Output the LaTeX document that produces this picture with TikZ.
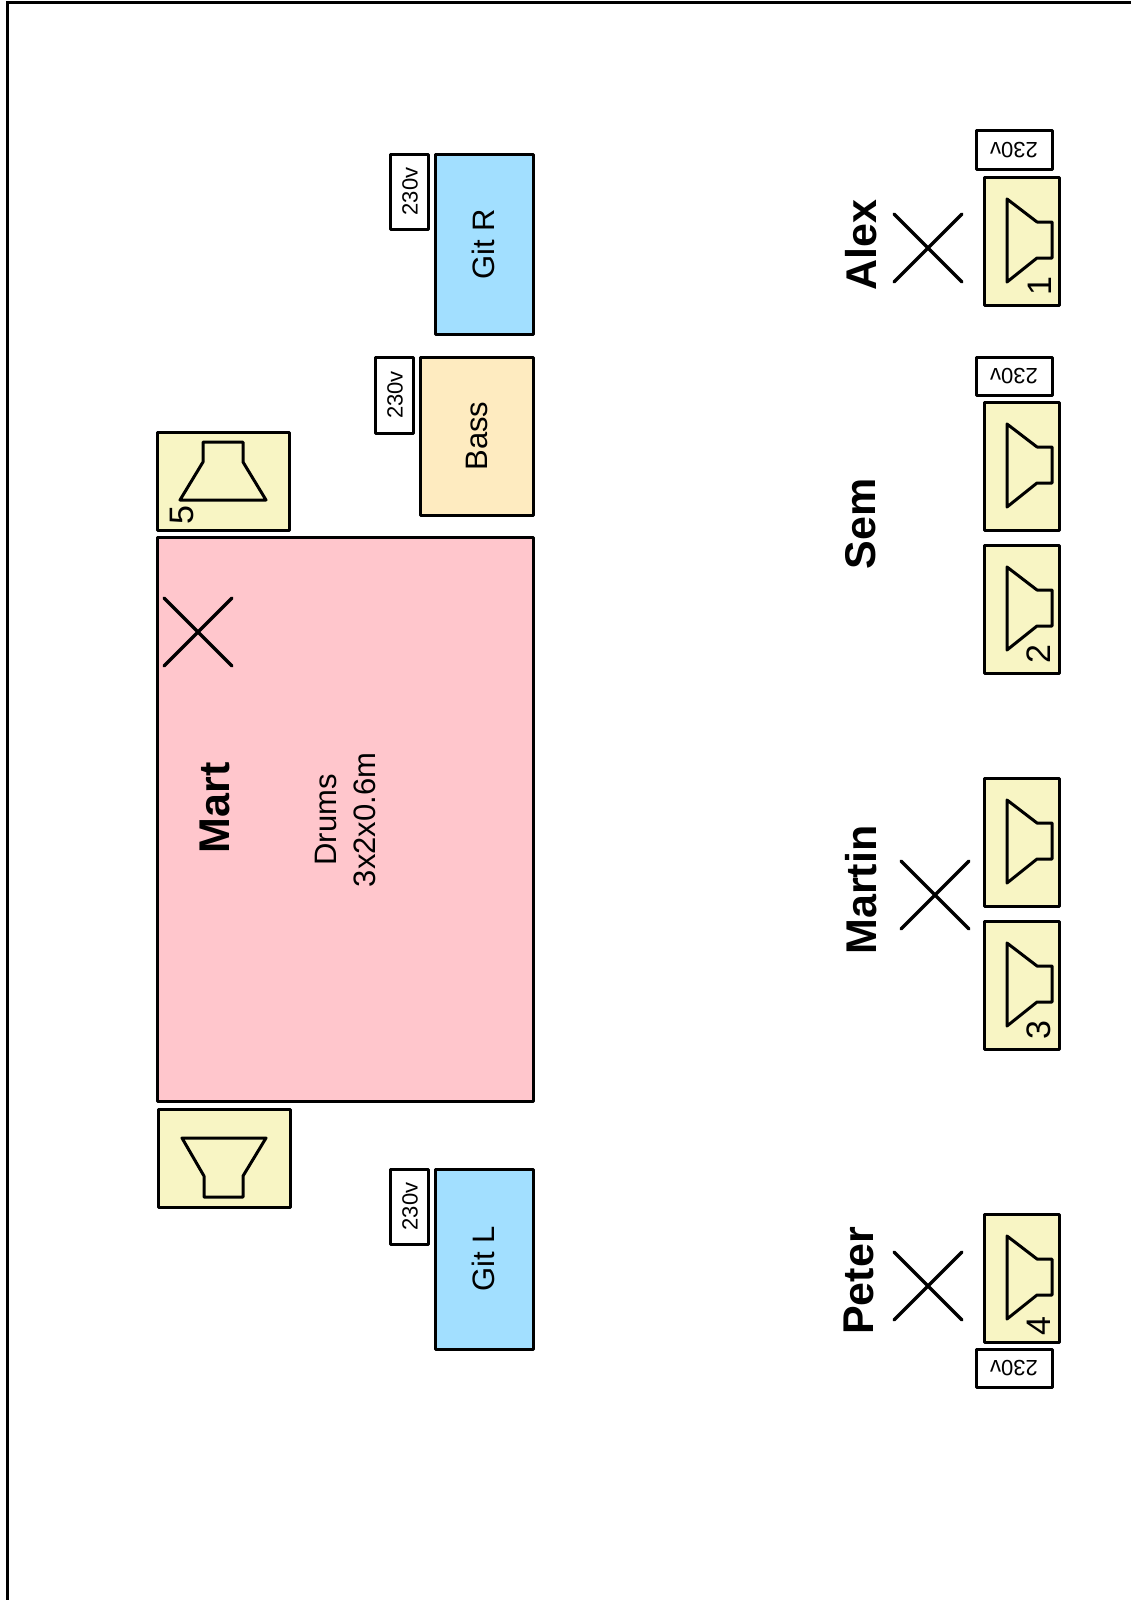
\documentclass[tikz,border=0pt]{standalone}
\usepackage{fontspec}
\setmainfont{Liberation Sans}
\definecolor{spkfill}{HTML}{F8F5C4}
\definecolor{drumfill}{HTML}{FFC6CC}
\definecolor{gitfill}{HTML}{A2DFFF}
\definecolor{bassfill}{HTML}{FEEBC0}
\tikzset{
  box/.style={draw=black,line width=3pt,line join=round},
  txt/.style={inner sep=0pt,font=\fontsize{31}{35}\selectfont,rotate=90,align=center},
  who/.style={inner sep=0pt,font=\fontsize{43}{48}\selectfont\bfseries,rotate=90},
  pwr/.style={inner sep=0pt,font=\fontsize{22}{25}\selectfont},
  num/.style={inner sep=0pt,font=\fontsize{34}{38}\selectfont,rotate=90},
  horn/.style={draw=black,line width=3pt,line join=round},
  cross/.style={draw=black,line width=3.4pt,line cap=round},
}
\newcommand{\monitor}[2]{%
  \filldraw[box,fill=spkfill] (#1,#2) rectangle ++(75,128);
  \draw[horn] (#1+23,#2+22) -- (#1+23,#2+105) -- (#1+53,#2+81) -- (#1+68,#2+81) -- (#1+68,#2+45) -- (#1+53,#2+45) -- cycle;
}
\newcommand{\powerbox}[6]{%
  \filldraw[box,fill=white] (#1,#2) rectangle (#3,#4);
  \node[pwr,rotate=#5] at ({(#1+#3)/2+#6},{(#2+#4)/2}) {230v};
}
\newcommand{\xmark}[3]{\draw[cross] (#1,#2) -- (#1+#3,#2+#3) (#1,#2+#3) -- (#1+#3,#2);}
\begin{document}
\begin{tikzpicture}[x=1pt,y=-1pt]
\useasboundingbox (0,0) rectangle (1131,1600);
\clip (0,0) rectangle (1131,1600);
\fill[white] (0,0) rectangle (1131,1600);
\draw[black,line width=3pt] (7,3) rectangle (1145,1615);

% back line
\filldraw[box,fill=drumfill] (157,537) rectangle (533,1101);
\filldraw[box,fill=gitfill] (435,154) rectangle (533,334);
\filldraw[box,fill=bassfill] (420,357) rectangle (533,515);
\filldraw[box,fill=gitfill] (435,1169) rectangle (533,1349);
\powerbox{390}{154}{428}{229}{90}{1}
\powerbox{375}{357}{413}{433}{90}{1}
\powerbox{390}{1169}{428}{1244}{90}{1}
\node[txt] (gitr) at (483,244) {Git R};
\node[txt] (bass) at (477,436) {Bass};
\node[txt] (gitl) at (483,1259) {Git L};
\node[txt] (drums) at (345,820) {Drums\\[4pt]3x2x0.6m};

% drum fills
\filldraw[box,fill=spkfill] (157,432) rectangle (289,530);
\draw[horn] (180,500) -- (266,500) -- (243,462) -- (243,442) -- (203,442) -- (203,462) -- cycle;
\node[num] (n5) at (182,515) {5};
\filldraw[box,fill=spkfill] (158,1109) rectangle (290,1207);
\draw[horn] (182,1138) -- (266,1138) -- (243,1176) -- (243,1197) -- (204,1197) -- (204,1176) -- cycle;

% front line monitors
\monitor{984}{177}
\monitor{984}{402}
\monitor{984}{545}
\monitor{984}{778}
\monitor{984}{921}
\monitor{984}{1214}
\node[num] (n1) at (1040,286) {1};
\node[num] (n2) at (1039,654) {2};
\node[num] (n3) at (1039,1030) {3};
\node[num] (n4) at (1039,1326) {4};
\powerbox{976}{131}{1052}{169}{180}{0}
\powerbox{976}{357}{1052}{395}{180}{0}
\powerbox{976}{1349}{1052}{1387}{180}{0}

% musicians
\xmark{894}{214}{68}
\xmark{901}{861}{68}
\xmark{894}{1252}{68}
\xmark{164}{598}{68}
\node[who] (alex) at (861,245) {Alex};
\node[who] (sem) at (861,524) {Sem};
\node[who] (martin) at (861,890) {Martin};
\node[who] (peter) at (859,1281) {Peter};
\node[who] (mart) at (215,808) {Mart};
\end{tikzpicture}
\end{document}
